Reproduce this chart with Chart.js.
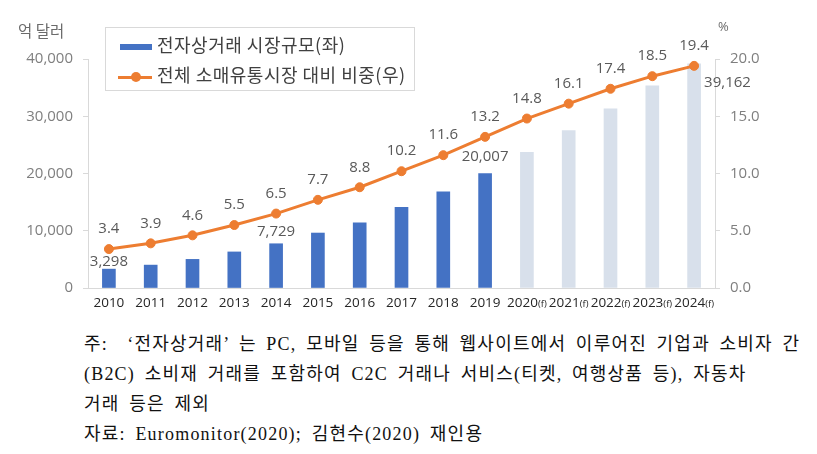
<!DOCTYPE html>
<html><head><meta charset="utf-8">
<script src="https://cdn.jsdelivr.net/npm/chart.js@4"></script>
<style>
html,body{margin:0;padding:0;background:#fff;width:817px;height:454px;overflow:hidden;position:relative;}
#wrap{position:absolute;left:0;top:0;width:817px;height:320px;}
.unit{position:absolute;font-family:"Noto Sans CJK KR","Noto Sans",sans-serif;color:#6b6b6b;font-size:15.5px;line-height:1;}
#legend{position:absolute;left:105px;top:27px;width:310px;height:64px;border:1px solid #d9d9d9;background:#fff;box-sizing:border-box;font-family:"Noto Sans CJK KR",sans-serif;font-size:18px;letter-spacing:0.5px;color:#404040;}
.li{position:absolute;left:12px;height:20px;line-height:20px;white-space:nowrap;}
.sw{display:inline-block;vertical-align:middle;position:relative;width:34px;height:20px;margin-right:5px;}
#note{position:absolute;left:84px;top:329px;font-family:"Liberation Serif","Noto Sans CJK KR",serif;font-size:18px;word-spacing:4px;letter-spacing:1.2px;color:#111;line-height:30px;white-space:nowrap;}
</style></head>
<body>
<div id="wrap"><canvas id="c" width="817" height="320"></canvas></div>
<div class="unit" style="left:18px;top:23px;">억 달러</div>
<div class="unit" style="left:718px;top:20px;font-family:'Open Sans',sans-serif;font-size:13px;">%</div>
<div id="legend">
  <div class="li" style="top:6px;"><span class="sw"><span style="position:absolute;left:2px;top:7px;width:32px;height:6px;background:#4472C4;"></span></span><span id="l1"></span></div>
  <div class="li" style="top:36px;"><span class="sw"><span style="position:absolute;left:0;top:8.5px;width:34px;height:3px;background:#ED7D31;"></span><span style="position:absolute;left:13px;top:5px;width:10px;height:10px;border-radius:50%;background:#ED7D31;"></span></span><span id="l2"></span></div>
</div>
<div id="note">
<div>주:&nbsp; ‘전자상거래’ 는 PC, 모바일 등을 통해 웹사이트에서 이루어진 기업과 소비자 간</div>
<div>(B2C) 소비재 거래를 포함하여 C2C 거래나 서비스(티켓, 여행상품 등), 자동차</div>
<div>거래 등은 제외</div>
<div>자료: Euromonitor(2020); 김현수(2020) 재인용</div>
</div>
<script>
// ---- data ----
const categories = ['2010','2011','2012','2013','2014','2015','2016','2017','2018','2019','2020(f)','2021(f)','2022(f)','2023(f)','2024(f)'];
const marketSize = [3298, 4000, 5000, 6300, 7729, 9600, 11400, 14100, 16800, 20007, 23700, 27500, 31300, 35300, 39162];
const retailShare = [3.4, 3.9, 4.6, 5.5, 6.5, 7.7, 8.8, 10.2, 11.6, 13.2, 14.8, 16.1, 17.4, 18.5, 19.4];
const isForecast = [false,false,false,false,false,false,false,false,false,false,true,true,true,true,true];
const seriesNames = ['전자상거래 시장규모(좌)', '전체 소매유통시장 대비 비중(우)'];
const leftTicks = [0, 10000, 20000, 30000, 40000];
const rightTicks = [0, 5, 10, 15, 20];
const labeledBars = [0, 4, 9, 14];

document.getElementById('l1').textContent = seriesNames[0];
document.getElementById('l2').textContent = seriesNames[1];

const BLUE = '#4472C4', LIGHT = '#D8E0EB', ORANGE = '#ED7D31', GRAY = '#7f7f7f', AXIS = '#d9d9d9';
const numFont = '"Open Sans", "Noto Sans", sans-serif';

const labelPlugin = {
  id: 'labels',
  afterDatasetsDraw(chart) {
    const ctx = chart.ctx;
    ctx.save();
    ctx.fillStyle = '#595959';
    ctx.font = '15px ' + numFont;
    ctx.textBaseline = 'middle';
    const lineMeta = chart.getDatasetMeta(0);
    lineMeta.data.forEach((pt, i) => {
      ctx.textAlign = 'center';
      ctx.fillText(retailShare[i].toFixed(1), pt.x, pt.y - 20);
    });
    const barMeta = chart.getDatasetMeta(1);
    const offs = {0: 7, 4: 12, 9: 17};
    labeledBars.forEach(i => {
      const b = barMeta.data[i];
      const txt = marketSize[i].toLocaleString('en-US');
      if (i === categories.length - 1) {
        ctx.textAlign = 'left';
        ctx.fillText(txt, b.x + 10, b.y + 19);
      } else {
        ctx.textAlign = 'center';
        ctx.fillText(txt, b.x, b.y - offs[i]);
      }
    });
    ctx.restore();
  },
  afterDraw(chart) {
    const ctx = chart.ctx;
    const xs = chart.scales.x;
    const y = chart.chartArea.bottom + 15;
    ctx.save();
    ctx.fillStyle = '#262626';
    ctx.textBaseline = 'middle';
    categories.forEach((lab, i) => {
      const x = xs.getPixelForValue(i);
      const m = lab.match(/^(\d+)(\(f\))?$/);
      const main = m[1], suf = m[2] || '';
      ctx.font = '13.5px ' + numFont;
      const w1 = ctx.measureText(main).width;
      ctx.font = '9.5px ' + numFont;
      const w2 = suf ? ctx.measureText(suf).width : 0;
      let sx = x - (w1 + w2) / 2;
      ctx.textAlign = 'left';
      ctx.font = '13.5px ' + numFont;
      ctx.fillText(main, sx, y);
      if (suf) { ctx.font = '9.5px ' + numFont; ctx.fillText(suf, sx + w1, y + 1); }
    });
    ctx.restore();
  }
};

new Chart(document.getElementById('c'), {
  data: {
    labels: categories,
    datasets: [
      { type: 'line', label: seriesNames[1], data: retailShare, yAxisID: 'y1', order: 0,
        borderColor: ORANGE, backgroundColor: ORANGE, borderWidth: 3, pointRadius: 4.5,
        pointBorderWidth: 1, pointBackgroundColor: ORANGE, tension: 0 },
      { type: 'bar', label: seriesNames[0], data: marketSize, yAxisID: 'y', order: 1,
        backgroundColor: isForecast.map(f => f ? LIGHT : BLUE), barThickness: 13 }
    ]
  },
  options: {
    responsive: false, animation: false,
    layout: { padding: { top: 59, bottom: 0, left: 0, right: 0 } },
    plugins: { legend: { display: false }, tooltip: { enabled: false } },
    scales: {
      x: { offset: true, grid: { display: false }, border: { display: true, color: AXIS, width: 1 },
           ticks: { display: false }, afterFit(s) { s.height = 32; } },
      y: { position: 'left', min: 0, max: 40000,
           afterBuildTicks(s) { s.ticks = leftTicks.map(v => ({ value: v })); },
           grid: { drawOnChartArea: false, drawTicks: true, tickLength: 5, color: AXIS },
           border: { display: true, color: AXIS },
           ticks: { color: GRAY, font: { family: numFont, size: 15 }, padding: 10,
                    callback: v => v.toLocaleString('en-US') },
           afterFit(s) { s.width = 88; } },
      y1: { position: 'right', min: 0, max: 20,
           afterBuildTicks(s) { s.ticks = rightTicks.map(v => ({ value: v })); },
           grid: { drawOnChartArea: false, drawTicks: true, tickLength: 5, color: AXIS },
           border: { display: true, color: AXIS },
           ticks: { color: GRAY, font: { family: numFont, size: 15 }, padding: 10,
                    callback: v => Number(v).toFixed(1) },
           afterFit(s) { s.width = 102; } }
    }
  },
  plugins: [labelPlugin]
});
</script>
</body></html>
